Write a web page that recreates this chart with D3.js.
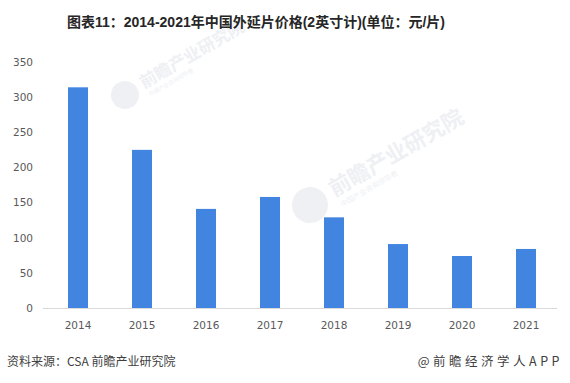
<!DOCTYPE html>
<html>
<head>
<meta charset="utf-8">
<script src="https://cdn.jsdelivr.net/npm/d3@7"></script>
<style>
  body { margin: 0; background: #fff; }
  svg { display: block; font-family: "Noto Sans CJK SC", "Noto Sans", sans-serif; }
</style>
</head>
<body>
<div id="chart"></div>
<script>
// data
const years = ["2014", "2015", "2016", "2017", "2018", "2019", "2020", "2021"]
const prices = [314, 225, 141, 158, 129, 91, 74, 84]
const yTicks = [0, 50, 100, 150, 200, 250, 300, 350]

const width = 570, height = 383

const svg = d3.select("#chart")
    .append("svg")
    .attr("width", width)
    .attr("height", height)

// faint watermarks
const wm = svg.append("g").attr("fill", "#eef0f4")
function watermark(x, y, s) {
  const g = wm.append("g").attr("transform", `translate(${x},${y}) rotate(-30) scale(${s})`)
  g.append("circle").attr("cx", 0).attr("cy", 0).attr("r", 20)
  g.append("text").attr("x", 28).attr("y", 6).attr("font-size", 24).attr("font-weight", "bold")
    .text("前瞻产业研究院")
  g.append("text").attr("x", 30).attr("y", 20).attr("font-size", 8)
    .text("中国产业咨询领导者")
}
watermark(310, 205, 0.9)
watermark(125, 95, 0.7)

// scales
const x = d3.scaleBand()
    .domain(years)
    .range([46, 558])
    .paddingInner(0.6875)
    .paddingOuter(0.34375)

const y = d3.scaleLinear()
    .domain([0, 350])
    .range([308, 62])

// bars
svg.selectAll(".bar")
    .data(years)
    .enter().append("rect")
    .attr("class", "bar")
    .attr("x", d => x(d))
    .attr("y", (d, i) => y(prices[i]))
    .attr("width", x.bandwidth())
    .attr("height", (d, i) => y(0) - y(prices[i]))
    .attr("fill", "#4285e1")

// x axis
const xAxis = d3.axisBottom(x).tickSize(0).tickPadding(14)
const gx = svg.append("g")
    .attr("transform", `translate(0,${y(0)})`)
    .call(xAxis)
gx.select(".domain").attr("stroke", "#d9d9d9").attr("stroke-width", 1.2)
    .attr("d", "M43,0.5H557")
gx.selectAll("text").attr("fill", "#595959")
    .attr("font-family", "DejaVu Sans, sans-serif").attr("font-size", 10.5)

// y axis
const yAxis = d3.axisLeft(y).tickValues(yTicks).tickSize(0).tickPadding(0)
const gy = svg.append("g")
    .attr("transform", "translate(33,0)")
    .call(yAxis)
gy.select(".domain").remove()
gy.selectAll("text").attr("fill", "#595959")
    .attr("font-family", "DejaVu Sans, sans-serif").attr("font-size", 10.5)

// title
svg.append("text")
    .attr("x", 256)
    .attr("y", 27)
    .attr("text-anchor", "middle")
    .attr("font-family", "Liberation Sans, Noto Sans CJK SC, sans-serif")
    .attr("font-size", 14)
    .attr("font-weight", "bold")
    .attr("fill", "#262626")
    .text("图表11：2014-2021年中国外延片价格(2英寸计)(单位：元/片)")

// footer
svg.append("text")
    .attr("x", 7)
    .attr("y", 366)
    .attr("font-size", 12)
    .attr("fill", "#404040")
    .text("资料来源：CSA 前瞻产业研究院")

svg.append("text")
    .attr("x", 563)
    .attr("y", 366)
    .attr("text-anchor", "end")
    .attr("font-size", 12.5)
    .attr("letter-spacing", 3.5)
    .attr("fill", "#404040")
    .text("@前瞻经济学人APP")
</script>
</body>
</html>
